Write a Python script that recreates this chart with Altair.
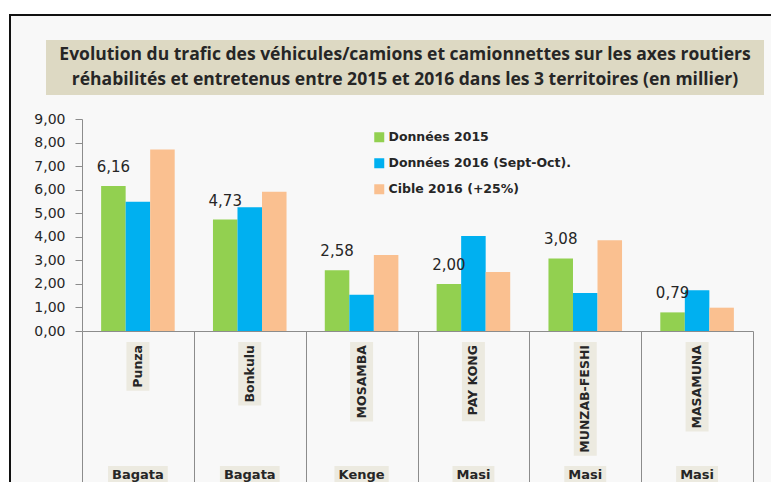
import altair as alt
import pandas as pd

# ---------------- data ----------------
categories = ["Punza", "Bonkulu", "MOSAMBA", "PAY KONG", "MUNZAB-FESHI", "MASAMUNA"]
territories = ["Bagata", "Bagata", "Kenge", "Masi", "Masi", "Masi"]
series_names = ["Données 2015", "Données 2016 (Sept-Oct).", "Cible 2016 (+25%)"]
values_2015 = [6.16, 4.73, 2.58, 2.00, 3.08, 0.79]
values_2016 = [5.49, 5.25, 1.54, 4.03, 1.61, 1.73]
values_cible = [7.70, 5.91, 3.23, 2.50, 3.85, 0.99]
y_ticks = [0, 1, 2, 3, 4, 5, 6, 7, 8, 9]
title_lines = [
    "Evolution du trafic des  véhicules/camions et camionnettes sur les axes routiers",
    "réhabilités  et entretenus entre 2015 et 2016  dans les 3 territoires (en  millier)",
]
colors = ["#92D050", "#00B0F0", "#FAC090"]

# ---------------- layout ----------------
W, H = 671, 212          # plot area
TXT = "#262626"
GRID = "#8C8C8C"
LABEL_BG = "#ECEAE0"
TITLE_BG = "#DDD9C3"
FONT = "DejaVu Sans"

# approximate DejaVu Sans Bold advance widths (em) for box sizing
_W = {
    "A": .774, "B": .762, "C": .734, "D": .830, "E": .683, "F": .683, "G": .821,
    "H": .837, "I": .372, "K": .775, "M": .995, "N": .837, "O": .850, "P": .733,
    "S": .720, "U": .812, "Y": .724, "Z": .725, "-": .415, " ": .348,
    "a": .675, "u": .712, "n": .712, "z": .582, "o": .687, "k": .665, "l": .343,
    "g": .716, "t": .478, "e": .678, "i": .343, "s": .595,
}


def text_w(s, size):
    return sum(_W.get(c, .7) for c in s) * size


rows = []
for name, vals in zip(series_names, [values_2015, values_2016, values_cible]):
    for c, v in zip(categories, vals):
        rows.append({"category": c, "series": name, "value": v})
df = pd.DataFrame(rows)

x_enc = alt.X(
    "category:N", sort=categories,
    scale=alt.Scale(paddingInner=0, paddingOuter=0),
    axis=alt.Axis(labels=False, title=None, tickBand="extent", tickSize=160,
                  tickColor=GRID, domainColor=GRID, tickWidth=1, domainWidth=1,
                  zindex=1),
    title=None,
)
xoff_enc = alt.XOffset("series:N", sort=series_names,
                       scale=alt.Scale(paddingOuter=0.78, paddingInner=0))
y_enc = alt.Y(
    "value:Q", scale=alt.Scale(domain=[0, 9], nice=False),
    axis=alt.Axis(values=y_ticks, grid=False, title=None, tickSize=7,
                  tickColor=GRID, domainColor=GRID,
                  labelExpr="replace(format(datum.value, '.2f'), '.', ',')",
                  labelFont=FONT, labelFontSize=14, labelColor=TXT,
                  labelPadding=10, zindex=1),
)

one = pd.DataFrame({"k": [0]})

frame = alt.Chart(one).mark_rect(fill="#F8F8F8", stroke="#111111", strokeWidth=2).encode(
    x=alt.value(-72), x2=alt.value(740), y=alt.value(-104), y2=alt.value(420)
)
title_box = alt.Chart(one).mark_rect(fill=TITLE_BG).encode(
    x=alt.value(-36), x2=alt.value(682), y=alt.value(-79), y2=alt.value(-24)
)
title_layers = []
for i, line in enumerate(title_lines):
    title_layers.append(
        alt.Chart(one).mark_text(font="Open Sans", fontSize=17.5, fontWeight="bold",
                                 color=TXT, align="center", baseline="middle").encode(
            x=alt.value(323), y=alt.value(-64 + 25 * i), text=alt.value(line)
        )
    )

bars = alt.Chart(df).mark_bar().encode(
    x=x_enc, xOffset=xoff_enc, y=y_enc,
    color=alt.Color("series:N", sort=series_names,
                    scale=alt.Scale(domain=series_names, range=colors),
                    legend=alt.Legend(orient="none", legendX=291, legendY=12,
                                      title=None, symbolType="square",
                                      symbolSize=100, symbolStrokeWidth=0,
                                      labelFont=FONT, labelFontSize=12.5,
                                      labelFontWeight="bold", labelColor=TXT,
                                      labelLimit=400,
                                      rowPadding=13, labelOffset=3)),
)

labels = alt.Chart(df).transform_filter(
    alt.datum.series == series_names[0]
).transform_calculate(
    lab="replace(format(datum.value, '.2f'), '.', ',')"
).mark_text(font=FONT, fontSize=15, color=TXT, baseline="middle", dy=-19).encode(
    x=x_enc, xOffset=xoff_enc, y=y_enc, text="lab:N"
)

cat_layers = []
for c in categories:
    d = pd.DataFrame({"category": [c]})
    L = text_w(c, 12.5) + 6
    cat_layers.append(
        alt.Chart(d).mark_bar(size=23, color=LABEL_BG).encode(
            x=x_enc, y=alt.value(223), y2=alt.value(223 + L)
        )
    )
cat_text = alt.Chart(pd.DataFrame({"category": categories})).mark_text(
    font=FONT, fontSize=12.5, fontWeight="bold", color=TXT, angle=270,
    align="right", baseline="middle"
).encode(x=x_enc, y=alt.value(226), text="category:N")

terr_df = pd.DataFrame({"category": categories, "territory": territories})
terr_df["bw"] = [text_w(t, 13) + 8 for t in territories]
terr_box = alt.Chart(terr_df).mark_bar(color=LABEL_BG).encode(
    x=x_enc, y=alt.value(347), y2=alt.value(372),
    size=alt.Size("bw:Q", scale=None, legend=None),
)
terr_text = alt.Chart(terr_df).mark_text(
    font=FONT, fontSize=13, fontWeight="bold", color=TXT, baseline="middle"
).encode(x=x_enc, y=alt.value(356), text="territory:N")

chart = alt.layer(
    frame, title_box, *title_layers, *cat_layers, cat_text, terr_box, terr_text,
    bars, labels
).properties(
    width=W, height=H,
    autosize=alt.AutoSizeParams(type="none"),
    padding={"left": 74, "top": 111, "right": 18, "bottom": 151},
    background="white",
).configure_view(stroke=None)

chart.save("out.html", embed_options={"renderer": "svg", "actions": False})
